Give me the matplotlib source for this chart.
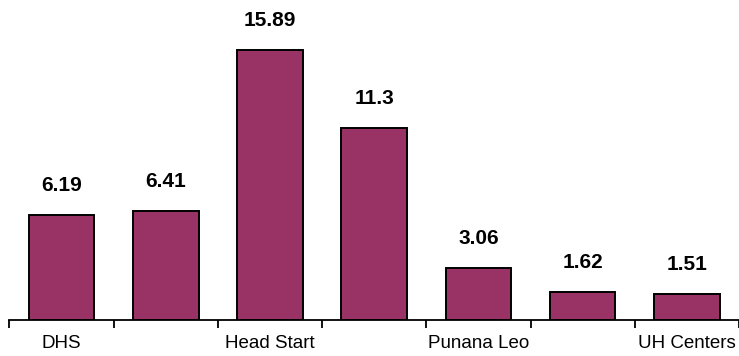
import numpy as np
import matplotlib
matplotlib.use("Agg")
import matplotlib.pyplot as plt

# categories (only every other label is shown in the original)
categories = ["DHS", "", "Head Start", "", "Punana Leo", "", "UH Centers"]
values = [6.19, 6.41, 15.89, 11.3, 3.06, 1.62, 1.51]
value_labels = ["6.19", "6.41", "15.89", "11.3", "3.06", "1.62", "1.51"]

bar_color = "#993366"

fig = plt.figure(figsize=(7.39, 3.56), dpi=100)
ax = fig.add_axes([9.3 / 739, 36.5 / 356, 729.7 / 739, 319.5 / 356])

x = np.arange(len(values))
ax.bar(x, values, width=0.63, color=bar_color, edgecolor="black", linewidth=1.4)

for xi, v, lab in zip(x, values, value_labels):
    ax.annotate(lab, (xi, v), xytext=(0, 17.3), textcoords="offset points",
                ha="center", va="baseline", fontsize=15, fontweight="bold",
                family=["Liberation Sans", "DejaVu Sans"])

ax.set_xlim(-0.5, -0.5 + 729.7 / 104.95)
ax.set_ylim(0, 319.5 / 16.95)

for s in ["top", "right", "left"]:
    ax.spines[s].set_visible(False)
ax.spines["bottom"].set_linewidth(1.3)
ax.yaxis.set_visible(False)

ax.set_xticks(x)
ax.set_xticklabels(categories, fontsize=13.5, family=["Liberation Sans", "DejaVu Sans"])
ax.tick_params(axis="x", which="major", length=0, pad=11)
ax.set_xticks(np.arange(-0.5, len(values), 1.0), minor=True)
ax.tick_params(axis="x", which="minor", length=6, width=1.3, color="black")

fig.savefig("out.png", dpi=100)
